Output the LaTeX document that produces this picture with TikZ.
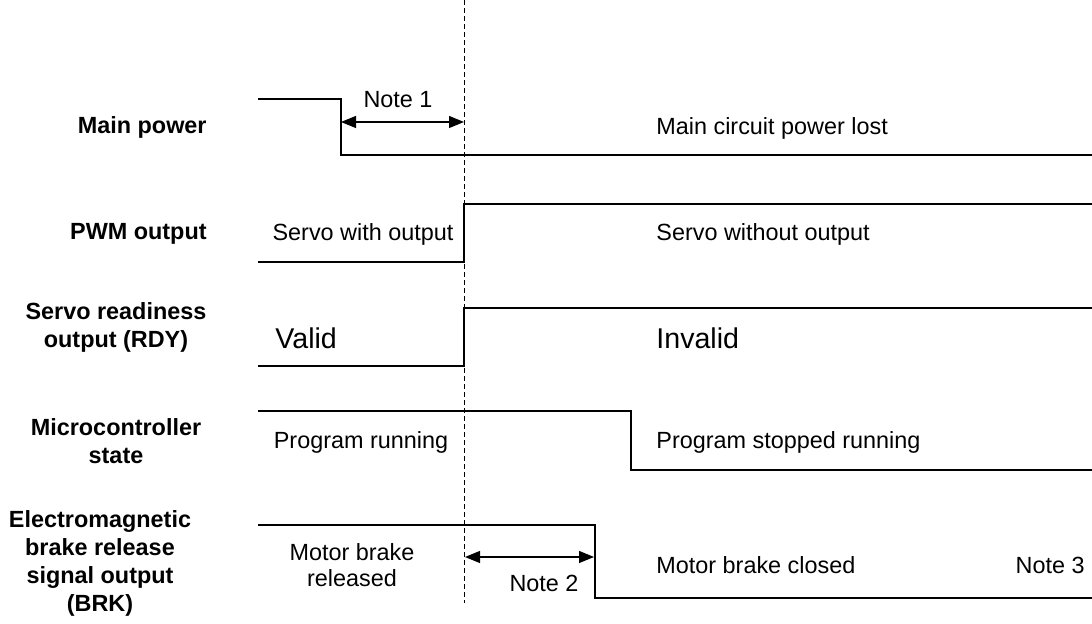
\documentclass[tikz,border=0pt]{standalone}
\usepackage{fontspec}
\setmainfont{Liberation Sans}
\usetikzlibrary{arrows.meta}

\begin{document}
\begin{tikzpicture}[
  x=0.5pt, y=-0.5pt,
  every node/.style={font=\fontsize{11.7}{12.8}\selectfont, inner sep=0pt},
  lbl/.style={font=\fontsize{11.7}{14}\selectfont\bfseries, align=center},
  big/.style={font=\fontsize{14.3}{16}\selectfont},
  sig/.style={line width=0.6pt},
  gap/.style={{Triangle[length=7.5pt,width=6pt]}-{Triangle[length=7.5pt,width=6pt]}, line width=0.6pt},
  cut/.style={line width=0.5pt, dash pattern=on 2.5pt off 1.5pt},
]
\useasboundingbox (0,0) rectangle (1092,624);

% signal names
\node[lbl, anchor=east] (pwr) at (207,127) {Main power};
\node[lbl, anchor=east] (pwm) at (207,234) {PWM output};
\node[lbl] (rdy) at (116,327) {Servo readiness\\output (RDY)};
\node[lbl] (mcu) at (116,441) {Microcontroller\\state};
\node[lbl] (brk) at (100,563) {Electromagnetic\\brake release\\signal output\\(BRK)};

% moment of power loss
\coordinate (top) at (464,0);
\coordinate (bot) at (464,603);
\draw[cut] (top) -- (bot);

% waveforms
\draw[sig] (258,99) -- (341,99) -- (341,155) -- (1092,155);
\draw[sig] (258,262) -- (464,262) -- (464,204) -- (1092,204);
\draw[sig] (258,366) -- (464,366) -- (464,308) -- (1092,308);
\draw[sig] (258,411) -- (631,411) -- (631,470) -- (1092,470);
\draw[sig] (258,525) -- (595,525) -- (595,598) -- (1092,598);

% delays
\coordinate (n1a) at (341,122);
\coordinate (n1b) at (464,122);
\draw[gap] (n1a) -- (n1b);
\node (note1) at (398,100) {Note 1};
\coordinate (n2a) at (465,557);
\coordinate (n2b) at (594,557);
\draw[gap] (n2a) -- (n2b);
\node (note2) at (544,583) {Note 2};

% states
\node[anchor=west] (lost) at (656,128) {Main circuit power lost};
\node (pon) at (363,234) {Servo with output};
\node[anchor=west] (poff) at (656,234) {Servo without output};
\node[big, anchor=west] (valid) at (275,338) {Valid};
\node[big, anchor=west] (inval) at (656,338) {Invalid};
\node (run) at (361,442) {Program running};
\node[anchor=west] (stop) at (656,442) {Program stopped running};
\node[align=center] (rel) at (352,565) {Motor brake\\released};
\node[anchor=west] (clo) at (656,565) {Motor brake closed};
\node[anchor=east] (note3) at (1085,565) {Note 3};

\end{tikzpicture}
\end{document}
